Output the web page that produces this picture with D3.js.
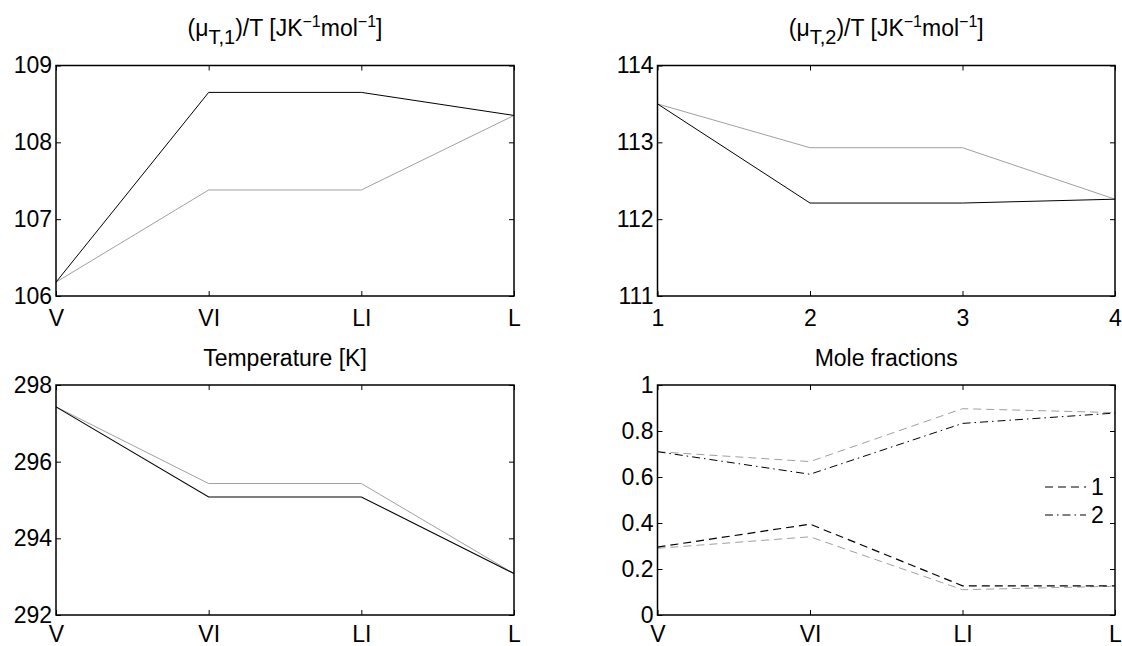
<!DOCTYPE html>
<html>
<head>
<meta charset="utf-8">
<script src="https://cdn.jsdelivr.net/npm/d3@7"></script>
<style>
  html, body { margin: 0; padding: 0; background: #fff; }
  svg { display: block; }
  text { font-family: "Liberation Sans", Arial, sans-serif; fill: #000; }
</style>
</head>
<body>
<svg id="chart" width="1122" height="646"></svg>
<script>
// ---- Data ----
const categories = ["V", "VI", "LI", "L"];
const numericLabels = ["1", "2", "3", "4"];

const mu1Black = [106.18, 108.65, 108.65, 108.35];
const mu1Gray  = [106.18, 107.38, 107.38, 108.35];
const mu1Ticks = [106, 107, 108, 109];

const mu2Black = [113.5, 112.21, 112.21, 112.26];
const mu2Gray  = [113.5, 112.93, 112.93, 112.26];
const mu2Ticks = [111, 112, 113, 114];

const tempBlack = [297.43, 295.08, 295.08, 293.08];
const tempGray  = [297.43, 295.43, 295.43, 293.08];
const tempTicks = [292, 294, 296, 298];

const x1Black = [0.295, 0.395, 0.127, 0.127];
const x1Gray  = [0.29, 0.34, 0.11, 0.125];
const x2Black = [0.71, 0.612, 0.833, 0.878];
const x2Gray  = [0.71, 0.667, 0.897, 0.88];
const moleTicks = [0, 0.2, 0.4, 0.6, 0.8, 1];
const moleTickLabels = ["0", "0.2", "0.4", "0.6", "0.8", "1"];

const legendLabels = ["1", "2"];

// ---- Layout ----
const svg = d3.select("#chart");
const GRAY = "#a0a0a0";
const FS = 23;

const panels = [
  { x0: 56, x1: 514, y0: 65.5, y1: 296, pad: 14, domain: [106, 109], ticks: mu1Ticks, tickFmt: d => d, xlabels: categories,
    title: "mu1", series: [
      { v: mu1Gray, c: GRAY, w: 1, dash: null },
      { v: mu1Black, c: "#000", w: 1, dash: null } ] },
  { x0: 657.5, x1: 1115, y0: 65.5, y1: 296, pad: 14, domain: [111, 114], ticks: mu2Ticks, tickFmt: d => d, xlabels: numericLabels,
    title: "mu2", series: [
      { v: mu2Gray, c: GRAY, w: 1, dash: null },
      { v: mu2Black, c: "#000", w: 1, dash: null } ] },
  { x0: 56, x1: 514, y0: 385, y1: 615, pad: 11, domain: [292, 298], ticks: tempTicks, tickFmt: d => d, xlabels: categories,
    title: "Temperature [K]", series: [
      { v: tempGray, c: GRAY, w: 1, dash: null },
      { v: tempBlack, c: "#000", w: 1.1, dash: null } ] },
  { x0: 657.5, x1: 1115, y0: 385, y1: 615, pad: 11, domain: [0, 1], ticks: moleTicks, tickFmt: (d, i) => moleTickLabels[i], xlabels: categories,
    title: "Mole fractions", series: [
      { v: x1Gray, c: GRAY, w: 1, dash: "8,5" },
      { v: x2Gray, c: GRAY, w: 1, dash: "8,5" },
      { v: x1Black, c: "#000", w: 1.2, dash: "8,5" },
      { v: x2Black, c: "#000", w: 1, dash: "8,4,1.5,4" } ] }
];

const TICK = 5;

panels.forEach((p, pi) => {
  const x = d3.scaleLinear().domain([0, 3]).range([p.x0, p.x1]);
  const y = d3.scaleLinear().domain(p.domain).range([p.y1, p.y0]);
  const g = svg.append("g");

  // data lines
  const line = d3.line().x((d, i) => x(i)).y(d => y(d));
  p.series.forEach(s => {
    g.append("path")
      .datum(s.v)
      .attr("d", line)
      .attr("fill", "none")
      .attr("stroke", s.c)
      .attr("stroke-width", s.w)
      .attr("stroke-dasharray", s.dash);
  });

  // axes
  const xb = d3.axisBottom(x).tickValues([0, 1, 2, 3])
    .tickFormat(i => p.xlabels[i]).tickSizeInner(-TICK).tickSizeOuter(0).tickPadding(p.pad);
  const xt = d3.axisTop(x).tickValues([0, 1, 2, 3]).tickFormat("").tickSizeInner(-TICK).tickSizeOuter(0);
  const yl = d3.axisLeft(y).tickValues(p.ticks).tickFormat(p.tickFmt)
    .tickSizeInner(-TICK).tickSizeOuter(0).tickPadding(4);
  const yr = d3.axisRight(y).tickValues(p.ticks).tickFormat("").tickSizeInner(-TICK).tickSizeOuter(0);

  const axes = [
    g.append("g").attr("transform", `translate(0,${p.y1})`).call(xb),
    g.append("g").attr("transform", `translate(0,${p.y0})`).call(xt),
    g.append("g").attr("transform", `translate(${p.x0},0)`).call(yl),
    g.append("g").attr("transform", `translate(${p.x1},0)`).call(yr)
  ];
  axes.forEach(a => {
    a.select(".domain").remove();
    a.selectAll("line").attr("stroke", "#000").attr("stroke-width", 1);
    a.selectAll("text").style("font-size", FS + "px")
      .style("font-family", '"Liberation Sans", Arial, sans-serif').attr("fill", "#000");
  });

  // box
  g.append("rect")
    .attr("x", p.x0).attr("y", p.y0)
    .attr("width", p.x1 - p.x0).attr("height", p.y1 - p.y0)
    .attr("fill", "none").attr("stroke", "#000").attr("stroke-width", 1.5);

  // title
  const cx = (p.x0 + p.x1) / 2;
  if (p.title === "mu1" || p.title === "mu2") {
    const sub = p.title === "mu1" ? "T,1" : "T,2";
    const t = svg.append("text").attr("x", cx).attr("y", 36)
      .attr("text-anchor", "middle").style("font-size", FS + "px");
    t.append("tspan").text("(μ");
    t.append("tspan").attr("dy", 8).style("font-size", "20px").text(sub);
    t.append("tspan").attr("dy", -8).text(")/T [JK");
    t.append("tspan").attr("dy", -9).style("font-size", "16px").text("−1");
    t.append("tspan").attr("dy", 9).text("mol");
    t.append("tspan").attr("dy", -9).style("font-size", "16px").text("−1");
    t.append("tspan").attr("dy", 9).text("]");
  } else {
    svg.append("text").attr("x", cx).attr("y", 366)
      .attr("text-anchor", "middle").style("font-size", FS + "px").text(p.title);
  }

  // legend in mole fraction panel
  if (pi === 3) {
    const leg = [
      { label: legendLabels[0], dash: "8,5", y: 487 },
      { label: legendLabels[1], dash: "8,4,1.5,4", y: 515 }
    ];
    leg.forEach(l => {
      g.append("line").attr("x1", 1045).attr("x2", 1086).attr("y1", l.y).attr("y2", l.y)
        .attr("stroke", "#000").attr("stroke-width", 1).attr("stroke-dasharray", l.dash);
      g.append("text").attr("x", 1091).attr("y", l.y + 8)
        .style("font-size", FS + "px").text(l.label);
    });
  }
});
</script>
</body>
</html>
